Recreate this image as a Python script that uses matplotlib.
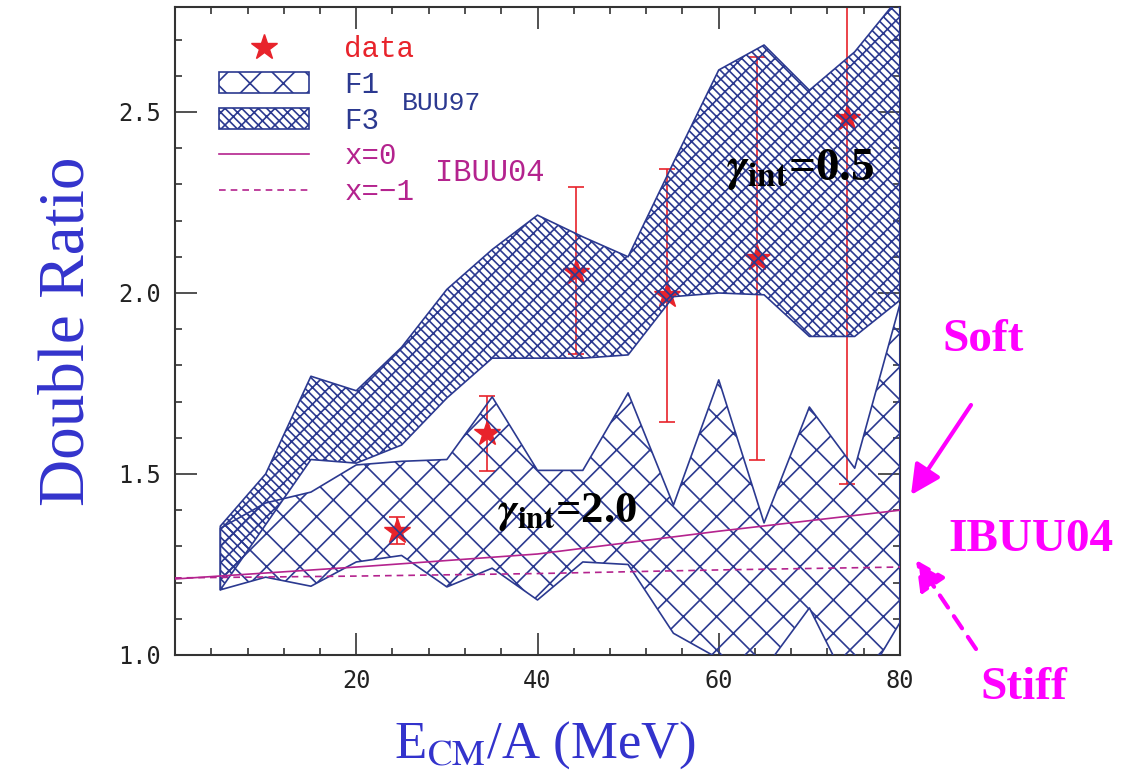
import matplotlib.pyplot as plt
from matplotlib.patches import Patch
from matplotlib.lines import Line2D
from matplotlib.ticker import MultipleLocator

# BUU97 bands (F1, F3) sampled every 5 MeV
x_sim = [5, 10, 15, 20, 25, 30, 35, 40, 45, 50, 55, 60, 65, 70, 75, 80]
f1_lo = [1.18, 1.215, 1.19, 1.257, 1.275, 1.188, 1.24, 1.152, 1.257, 1.25,
         1.06, 0.99, 0.96, 1.13, 0.88, 1.09]
f1_hi = [1.35, 1.42, 1.45, 1.525, 1.535, 1.54, 1.713, 1.51, 1.51, 1.724,
         1.414, 1.76, 1.365, 1.685, 1.516, 1.97]
f3_lo = [1.18, 1.36, 1.54, 1.53, 1.58, 1.71, 1.82, 1.82, 1.82, 1.829,
         1.99, 2.0, 1.995, 1.88, 1.88, 1.98]
f3_hi = [1.356, 1.50, 1.77, 1.73, 1.85, 2.01, 2.12, 2.215, 2.155, 2.10,
         2.36, 2.616, 2.685, 2.56, 2.666, 2.82]

# IBUU04 curves
x_ibuu = [0, 20, 40, 60, 80]
ibuu_x0 = [1.21, 1.243, 1.279, 1.342, 1.40]
ibuu_xm1 = [1.213, 1.218, 1.225, 1.235, 1.243]

# measured double ratio with error bars
x_data = [24.5, 34.4, 44.3, 54.3, 64.2, 74.1]
y_data = [1.343, 1.613, 2.058, 1.995, 2.097, 2.483]
y_low = [1.307, 1.508, 1.831, 1.644, 1.539, 1.472]
y_high = [1.381, 1.715, 2.292, 2.343, 2.652, 3.0]

navy = '#2b3990'
red = '#e8232b'
purple = '#b4238e'
magenta = '#ff00ff'
blue = '#3333cc'
hatch_f1 = 'x'
hatch_f3 = '\\\\\\\\//'

plt.rcParams['mathtext.fontset'] = 'stix'
plt.rcParams['hatch.linewidth'] = 1.2

fig = plt.figure(figsize=(11.33, 7.76), dpi=100)
ax = fig.add_axes([175 / 1133, 121 / 776, 725 / 1133, 648 / 776])

yerr = [[y - lo for y, lo in zip(y_data, y_low)],
        [hi - y for y, hi in zip(y_data, y_high)]]
ax.errorbar(x_data, y_data, yerr=yerr, fmt='*', ms=19, color=red,
            ecolor=red, elinewidth=1.2, capsize=6, capthick=1.2, zorder=2)

ax.fill_between(x_sim, f1_lo, f1_hi, facecolor='none', edgecolor=navy,
                hatch=hatch_f1, lw=1.2, zorder=3)
ax.fill_between(x_sim, f3_lo, f3_hi, facecolor='none', edgecolor=navy,
                hatch=hatch_f3, lw=1.2, zorder=3)

ax.plot(x_ibuu, ibuu_x0, color=purple, lw=1.2, zorder=4)
ax.plot(x_ibuu, ibuu_xm1, color=purple, lw=1.2, ls=(0, (4, 3)), zorder=4)

ax.set_xlim(0, 80)
ax.set_ylim(1.0, 2.79)
ax.set_xticks([20, 40, 60, 80])
ax.set_yticks([1.0, 1.5, 2.0, 2.5])
ax.xaxis.set_minor_locator(MultipleLocator(4))
ax.yaxis.set_minor_locator(MultipleLocator(0.1))
ax.tick_params(which='both', direction='in', top=True, right=True,
               width=1.2, color='#333333')
ax.tick_params(which='major', length=16, pad=10)
ax.tick_params(which='minor', length=5)
for lab in ax.get_xticklabels() + ax.get_yticklabels():
    lab.set_family('DejaVu Sans Mono')
    lab.set_fontsize(17)
    lab.set_color('#222222')
for sp in ax.spines.values():
    sp.set_linewidth(1.5)
    sp.set_color('#333333')

ax.set_ylabel('Double Ratio', family='Liberation Serif', fontsize=47,
              color=blue, va='center')
ax.yaxis.set_label_coords(-0.148, 0.5)
ax.set_xlabel(r'E$_{\rm CM}$/A (MeV)', family='Liberation Serif',
              fontsize=38, color=blue, va='center')
ax.xaxis.set_label_coords(0.510, -0.139)

ax.text(69.0, 2.34, r'$\boldsymbol{\gamma}_{\mathbf{int}}$=0.5',
        family='Liberation Serif', fontweight='bold', fontsize=34,
        ha='center', va='center', zorder=5)
ax.text(43.3, 1.395, r'$\boldsymbol{\gamma}_{\mathbf{int}}$=2.0',
        family='Liberation Serif', fontweight='bold', fontsize=32,
        ha='center', va='center', zorder=5)

handles = [
    Line2D([], [], ls='none', marker='*', ms=19, color=red),
    Patch(facecolor='none', edgecolor=navy, hatch=hatch_f1, lw=1.2),
    Patch(facecolor='none', edgecolor=navy, hatch=hatch_f3, lw=1.2),
    Line2D([], [], color=purple, lw=1.2),
    Line2D([], [], color=purple, lw=1.2, ls=(0, (4, 3))),
]
labels = ['data', 'F1', 'F3', 'x=0', 'x=\u22121']
ax.legend(handles, labels, loc='upper left', bbox_to_anchor=(0.0607, 0.957),
          frameon=False, borderpad=0, borderaxespad=0,
          prop={'family': 'Liberation Mono', 'size': 21},
          labelcolor=[red, navy, navy, purple, purple],
          handlelength=3.1, handleheight=0.72, handletextpad=1.2,
          labelspacing=0.27)
ax.text(0.313, 0.852, 'BUU97', transform=ax.transAxes, family='Liberation Mono',
        fontsize=19, color=navy, va='center')
ax.text(0.359, 0.744, 'IBUU04', transform=ax.transAxes, family='Liberation Mono',
        fontsize=22, color=purple, va='center')

# soft / stiff pointers on the right
for txt, px, py in [('Soft', 983, 340), ('IBUU04', 1031, 540), ('Stiff', 1024, 688)]:
    fig.text(px / 1133, 1 - py / 776, txt, family='Liberation Serif',
             fontweight='bold', fontsize=34, color=magenta,
             ha='center', va='center')
ax.annotate('', xy=(911 / 1133, 1 - 495 / 776), xycoords='figure fraction',
            xytext=(971 / 1133, 1 - 405 / 776), textcoords='figure fraction',
            annotation_clip=False,
            arrowprops=dict(arrowstyle='-|>,head_length=0.9,head_width=0.45',
                            color=magenta, lw=3, shrinkA=0, shrinkB=0,
                            mutation_scale=20))
ax.annotate('', xy=(916 / 1133, 1 - 560 / 776), xycoords='figure fraction',
            xytext=(976 / 1133, 1 - 649 / 776), textcoords='figure fraction',
            annotation_clip=False,
            arrowprops=dict(arrowstyle='-|>,head_length=0.9,head_width=0.45',
                            color=magenta, lw=3, ls=(0, (3.5, 2.5)),
                            shrinkA=0, shrinkB=0, mutation_scale=20))

fig.savefig('out.png', dpi=100)
